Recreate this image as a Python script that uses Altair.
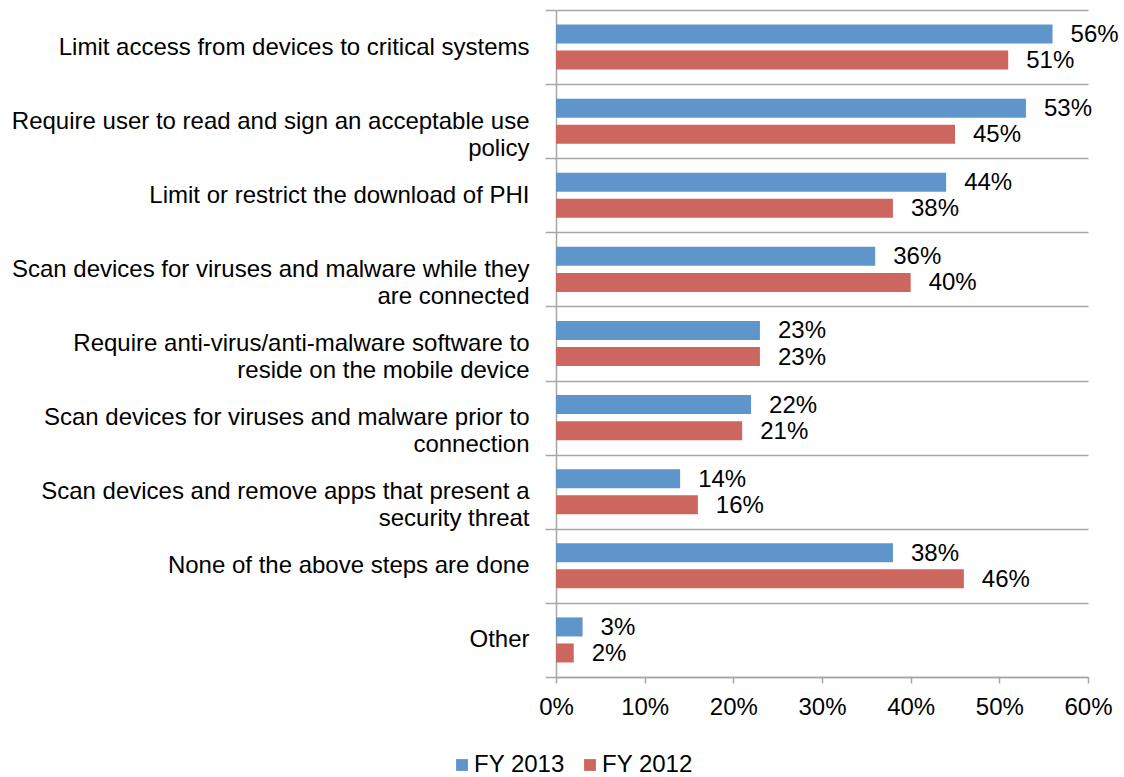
import altair as alt
import pandas as pd

categories = [
    "Limit access from devices to critical systems",
    "Require user to read and sign an acceptable use|policy",
    "Limit or restrict the download of PHI",
    "Scan devices for viruses and malware while they|are connected",
    "Require anti-virus/anti-malware software to|reside on the mobile device",
    "Scan devices for viruses and malware prior to|connection",
    "Scan devices and remove apps that present a|security threat",
    "None of the above steps are done",
    "Other",
]
series = ["FY 2013", "FY 2012"]
fy2013 = [56, 53, 44, 36, 23, 22, 14, 38, 3]
fy2012 = [51, 45, 38, 40, 23, 21, 16, 46, 2]
x_ticks = [0, 10, 20, 30, 40, 50, 60]
colors = ["#5E95CA", "#CD665F"]

rows = []
for c, a, b in zip(categories, fy2013, fy2012):
    rows.append({"cat": c, "series": series[0], "v": a})
    rows.append({"cat": c, "series": series[1], "v": b})
df = pd.DataFrame(rows)

FONT = "Liberation Sans"
GRID = "#A6A6A6"
FS = 24

y_enc = alt.Y(
    "cat:N",
    sort=categories,
    scale=alt.Scale(paddingInner=0, paddingOuter=0),
    axis=alt.Axis(
        title=None,
        labelExpr="split(datum.label, '|')",
        labelAlign="right",
        labelBaseline="middle",
        labelFontSize=FS,
        labelLineHeight=27,
        labelFont=FONT,
        labelColor="#000000",
        labelPadding=16,
        labelLimit=600,
        tickBand="extent",
        tickSize=11,
        tickColor=GRID,
        tickWidth=1.5,
        grid=True,
        gridColor=GRID,
        gridWidth=1.5,
        domainColor=GRID,
        domainWidth=1.5,
    ),
)
yoff = alt.YOffset(
    "series:N",
    sort=series,
    scale=alt.Scale(paddingInner=0.27, paddingOuter=0.558),
)
x_enc = alt.X(
    "v:Q",
    scale=alt.Scale(domain=[0, 60], nice=False),
    axis=alt.Axis(
        title=None,
        values=x_ticks,
        labelExpr="datum.value + '%'",
        labelFontSize=FS,
        labelFont=FONT,
        labelColor="#000000",
        labelPadding=12,
        tickSize=6,
        tickColor=GRID,
        tickWidth=1.5,
        domainColor=GRID,
        domainWidth=1.5,
        grid=False,
        labelFlush=False,
    ),
)

bars = alt.Chart(df).mark_bar().encode(
    x=x_enc,
    y=y_enc,
    yOffset=yoff,
    color=alt.Color(
        "series:N",
        sort=series,
        scale=alt.Scale(domain=series, range=colors),
        legend=alt.Legend(
            title=None,
            orient="none",
            direction="horizontal",
            legendX=-106,
            legendY=743,
            symbolType="square",
            symbolSize=140,
            symbolStrokeWidth=0,
            labelFontSize=FS,
            labelFont=FONT,
            labelColor="#000000",
            labelOffset=0,
            columnPadding=13,
        ),
    ),
)

labels = alt.Chart(df).transform_calculate(
    lbl="datum.v + '%'"
).mark_text(
    align="left", baseline="middle", dx=18, dy=1, fontSize=FS, font=FONT, color="#000000"
).encode(
    x=alt.X("v:Q"),
    y=alt.Y("cat:N", sort=categories),
    yOffset=yoff,
    text="lbl:N",
)

chart = (
    alt.layer(bars, labels)
    .properties(
        width=532,
        height=667,
        autosize=alt.AutoSizeParams(type="none"),
        padding={"left": 556, "top": 10, "right": 36, "bottom": 100},
    )
    .configure_view(strokeWidth=0)
)

chart.save("out.html", embed_options={"renderer": "svg", "actions": False})
